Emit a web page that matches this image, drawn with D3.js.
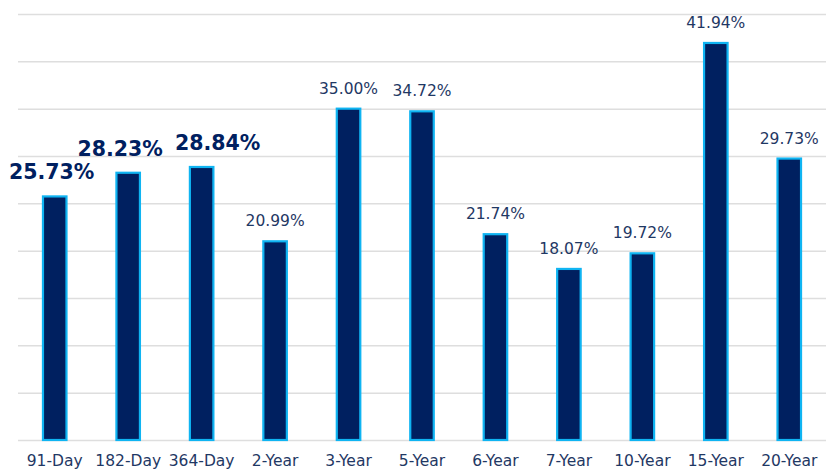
<!DOCTYPE html>
<html>
<head>
<meta charset="utf-8">
<style>
    body { margin: 0; background: #fff; }
    .grid line { stroke: #dedede; stroke-width: 1.5; }
    .grid path { display: none; }
    .xlab text { font-family: "DejaVu Sans", sans-serif; font-size: 15.5px; fill: #1f3864; }
</style>
</head>
<body>
<div id="containerChart"></div>
<script src="https://cdn.jsdelivr.net/npm/d3@7/dist/d3.min.js"></script>
<script>
    var categories = ["91-Day", "182-Day", "364-Day", "2-Year", "3-Year", "5-Year",
                      "6-Year", "7-Year", "10-Year", "15-Year", "20-Year"];
    var rates = [25.73, 28.23, 28.84, 20.99, 35.00, 34.72, 21.74, 18.07, 19.72, 41.94, 29.73];
    var highlighted = [true, true, true, false, false, false, false, false, false, false, false];
    var yTicks = [0, 5, 10, 15, 20, 25, 30, 35, 40, 45];

    // manual nudges of the big labels (as in the original)
    var labelNudge = [-3, -8, 16, 0, 0, 0, 0, 0, 0, 0, 0];

    var svgWidth = 826;
    var svgHeight = 475;

    var svg = d3.select("#containerChart")
        .append("svg")
        .attr("width", svgWidth)
        .attr("height", svgHeight);

    //Set up scales
    var xScale = d3.scaleBand()
        .domain(categories)
        .range([18, 826])
        .paddingInner(0.68)
        .paddingOuter(0.34);

    var yScale = d3.scaleLinear()
        .domain([0, 45])
        .range([440, 14]);

    // gridlines
    svg.append("g")
        .attr("class", "grid")
        .attr("transform", "translate(18,0)")
        .call(d3.axisLeft(yScale).tickValues(yTicks).tickSize(-808).tickFormat(""));

    var data = categories.map(function (c, i) {
        return { cat: c, value: rates[i], big: highlighted[i], dx: labelNudge[i] };
    });

    // bars
    svg.selectAll("rect.bar")
        .data(data)
        .enter().append("rect")
        .attr("class", "bar")
        .attr("x", function (d) { return xScale(d.cat); })
        .attr("y", function (d) { return yScale(d.value); })
        .attr("width", xScale.bandwidth())
        .attr("height", function (d) { return yScale(0) - yScale(d.value); })
        .attr("fill", "#002060")
        .attr("stroke", "#0fb4f2")
        .attr("stroke-width", 2.2);

    // value labels
    svg.selectAll("text.val")
        .data(data)
        .enter().append("text")
        .attr("class", "val")
        .attr("x", function (d) { return xScale(d.cat) + xScale.bandwidth() / 2 + d.dx; })
        .attr("y", function (d) { return yScale(d.value) - (d.big ? 17 : 15); })
        .style("text-anchor", "middle")
        .style("font-family", "DejaVu Sans, sans-serif")
        .style("font-size", function (d) { return d.big ? "20.5px" : "15.5px"; })
        .style("font-weight", function (d) { return d.big ? "bold" : "normal"; })
        .style("fill", function (d) { return d.big ? "#002060" : "#1f3864"; })
        .text(function (d) { return d.value.toFixed(2) + "%"; });

    // X axis labels
    svg.append("g")
        .attr("class", "xlab")
        .attr("transform", "translate(0,440)")
        .call(d3.axisBottom(xScale).tickSize(0).tickPadding(15))
        .call(function (g) { g.select(".domain").remove(); });
</script>
</body>
</html>
